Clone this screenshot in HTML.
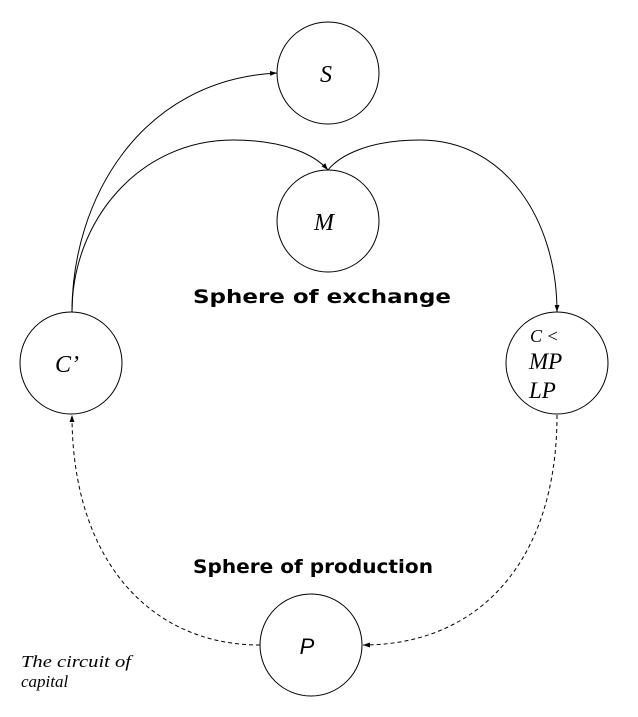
<!DOCTYPE html>
<html><head><meta charset="utf-8"><style>
html,body{margin:0;padding:0;background:#fff;}
svg{display:block;}
.ser{font-family:"Liberation Serif",serif;font-style:italic;fill:#000;}
.sans{font-family:"DejaVu Sans","Liberation Sans",sans-serif;font-weight:bold;fill:#000;}
</style></head><body>
<svg width="638" height="717" viewBox="0 0 638 717" xmlns="http://www.w3.org/2000/svg">
<defs>
<marker id="ar" viewBox="0 0 10 10" refX="10" refY="5" markerWidth="7" markerHeight="7" orient="auto" markerUnits="userSpaceOnUse">
<path d="M0,1.5 L10,5 L0,8.5 z" fill="#000"/>
</marker>
</defs>
<g fill="none" stroke="#000" stroke-width="1">
<circle cx="328" cy="73" r="51"/>
<circle cx="328" cy="221" r="51"/>
<circle cx="71" cy="363" r="51"/>
<circle cx="557" cy="363" r="51"/>
<circle cx="311" cy="645" r="51"/>
<path d="M72,312 C72,200 140,80 277,73" marker-end="url(#ar)"/>
<path d="M72,312 C72,220 140,140 233,140 C285,140 315,155 328,170" marker-end="url(#ar)"/>
<path d="M328,170 C340,155 370,140 420,140 C505,140 557,220 557,312" marker-end="url(#ar)"/>
<path stroke-dasharray="4,3" d="M557,415 C557,560 480,645 363,645" marker-end="url(#ar)"/>
<path stroke-dasharray="4,3" d="M260,645 C150,645 72,560 72,415" marker-end="url(#ar)"/>
</g>
<text class="ser" x="326" y="82" font-size="24" text-anchor="middle">S</text>
<text class="ser" x="324" y="230" font-size="24" text-anchor="middle">M</text>
<text class="ser" x="67" y="372" font-size="24" text-anchor="middle">C’</text>
<text class="ser" x="530" y="342" font-size="18">C &lt;</text>
<text class="ser" x="529" y="369" font-size="23">MP</text>
<text class="ser" x="529" y="398" font-size="23">LP</text>
<text x="307" y="654" font-size="22" font-style="italic" font-family="Liberation Sans, sans-serif" text-anchor="middle">P</text>
<text class="sans" x="193" y="303" font-size="19" textLength="258" lengthAdjust="spacingAndGlyphs">Sphere of exchange</text>
<text class="sans" x="193" y="573" font-size="19" textLength="240" lengthAdjust="spacingAndGlyphs">Sphere of production</text>
<text class="ser" x="21" y="667" font-size="17" textLength="110" lengthAdjust="spacingAndGlyphs">The circuit of</text>
<text class="ser" x="21" y="687" font-size="17">capital</text>
</svg>
</body></html>
